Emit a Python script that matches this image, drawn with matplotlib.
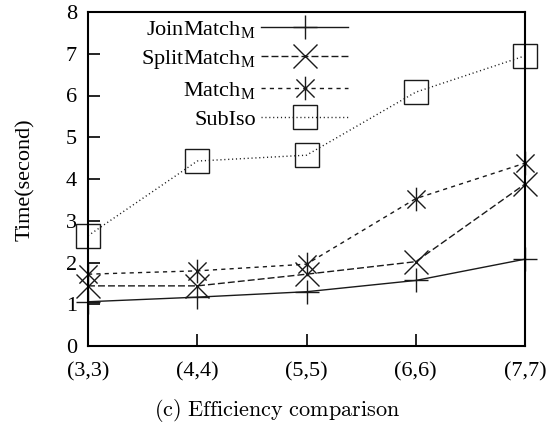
import matplotlib
matplotlib.use('Agg')
import matplotlib.pyplot as plt
from matplotlib.path import Path

# data
sizes = ['(3,3)', '(4,4)', '(5,5)', '(6,6)', '(7,7)']
join_match = [1.06, 1.17, 1.30, 1.57, 2.08]
split_match = [1.44, 1.44, 1.72, 2.02, 3.88]
match_m = [1.72, 1.80, 1.96, 3.53, 4.38]
sub_iso = [2.64, 4.43, 4.57, 6.08, 6.95]
yticks = [0, 1, 2, 3, 4, 5, 6, 7, 8]

plt.rcParams['font.family'] = ['Liberation Serif', 'DejaVu Serif']
plt.rcParams['mathtext.fontset'] = 'custom'
plt.rcParams['mathtext.rm'] = 'Liberation Serif'
plt.rcParams['mathtext.it'] = 'Liberation Serif:italic'
plt.rcParams['font.size'] = 16

# gnuplot style asterisk: x with a vertical bar
asterisk = Path([(-1, -1), (1, 1), (-1, 1), (1, -1), (0, -1.3), (0, 1.3)],
                [Path.MOVETO, Path.LINETO, Path.MOVETO, Path.LINETO, Path.MOVETO, Path.LINETO])

fig = plt.figure(figsize=(5.57, 4.24), dpi=100)
ax = fig.add_axes([88/557, 78/424, 437/557, 334/424])

x = list(range(len(sizes)))
lc = '#1a1a1a'
ax.plot(x, join_match, color=lc, lw=1.0, ls='-', marker='+', ms=17, mew=1.0,
        label=r'JoinMatch$_\mathrm{M}$', clip_on=False)
ax.plot(x, split_match, color=lc, lw=1.0, ls=(0, (5, 2.2)), marker='x', ms=17, mew=1.0,
        label=r'SplitMatch$_\mathrm{M}$', clip_on=False)
ax.plot(x, match_m, color=lc, lw=1.0, ls=(0, (3, 3)), marker=asterisk, ms=17, mew=1.0,
        label=r'Match$_\mathrm{M}$', clip_on=False)
ax.plot(x, sub_iso, color=lc, lw=1.0, ls=(0, (0.8, 2.0)), marker='s', ms=17, mew=1.0,
        mfc='none', label='SubIso', clip_on=False)

ax.set_xlim(0, len(sizes) - 1)
ax.set_ylim(0, 8)
ax.set_xticks(x)
ax.set_xticklabels(sizes)
ax.set_yticks(yticks)
ax.tick_params(direction='in', length=8.6, width=1.2, top=False, right=False)
ax.tick_params(axis='x', pad=12)
ax.tick_params(axis='y', pad=8)
for s in ax.spines.values():
    s.set_linewidth(1.5)

ax.set_ylabel('Time(second)')
ax.yaxis.set_label_coords(-0.122, 0.497)

ax.legend(loc='upper right', bbox_to_anchor=(0.595, 0.98), frameon=False,
          markerfirst=False, numpoints=1, handlelength=3.9, handletextpad=0.25,
          labelspacing=0.38, borderaxespad=0, borderpad=0)

fig.text(0.497, 1 - 411/424, r'$\mathrm{(c)\ Efficiency\ comparison}$',
         math_fontfamily='cm', fontsize=16, ha='center', va='center')

plt.savefig('out.png', dpi=100)
